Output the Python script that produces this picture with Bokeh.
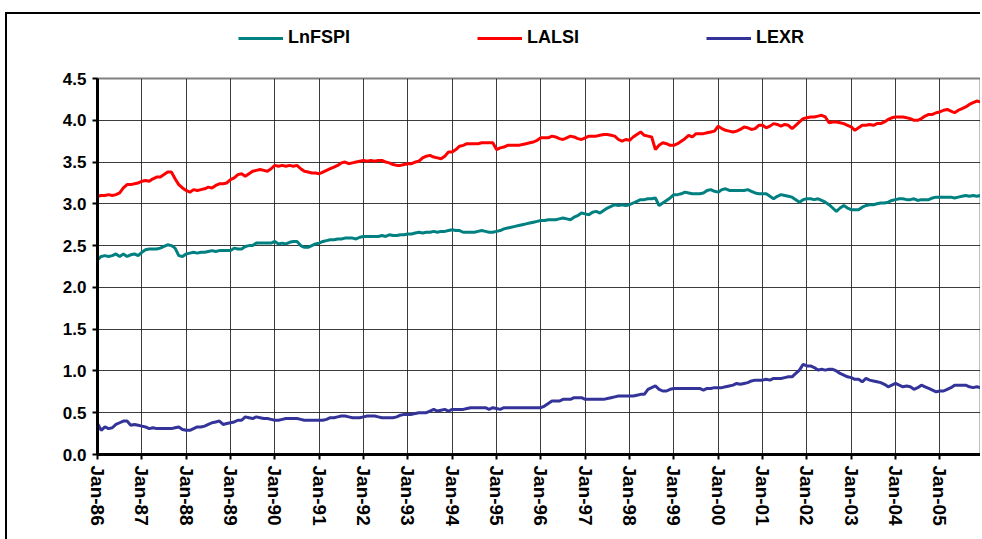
from bokeh.plotting import figure
from bokeh.layouts import column
from bokeh.models import Range1d, FixedTicker, Legend, LegendItem, NumeralTickFormatter
from bokeh.embed import file_html
from bokeh.resources import INLINE

# ---------------- data (monthly, Jan-86 .. Dec-05) ----------------
tick_labels = ["Jan-86", "Jan-87", "Jan-88", "Jan-89", "Jan-90", "Jan-91", "Jan-92",
               "Jan-93", "Jan-94", "Jan-95", "Jan-96", "Jan-97", "Jan-98", "Jan-99",
               "Jan-00", "Jan-01", "Jan-02", "Jan-03", "Jan-04", "Jan-05"]

lnfspi = [
    2.33, 2.37, 2.38, 2.37, 2.38, 2.40, 2.37, 2.40, 2.37, 2.39, 2.40, 2.38,  # 86
    2.42, 2.45, 2.46, 2.46, 2.46, 2.47, 2.49, 2.51, 2.50, 2.47, 2.38, 2.37,  # 87
    2.40, 2.41, 2.42, 2.41, 2.42, 2.42, 2.43, 2.44, 2.43, 2.44, 2.44, 2.44,  # 88
    2.44, 2.47, 2.46, 2.46, 2.49, 2.50, 2.50, 2.53, 2.53, 2.53, 2.53, 2.53,  # 89
    2.55, 2.52, 2.53, 2.52, 2.54, 2.55, 2.55, 2.50, 2.48, 2.48, 2.50, 2.52,  # 90
    2.53, 2.55, 2.56, 2.57, 2.57, 2.58, 2.58, 2.59, 2.59, 2.59, 2.58, 2.60,  # 91
    2.61, 2.61, 2.61, 2.61, 2.61, 2.62, 2.61, 2.63, 2.62, 2.62, 2.63, 2.63,  # 92
    2.64, 2.64, 2.65, 2.66, 2.65, 2.66, 2.66, 2.67, 2.66, 2.67, 2.67, 2.68,  # 93
    2.69, 2.68, 2.68, 2.66, 2.66, 2.66, 2.66, 2.67, 2.68, 2.67, 2.66, 2.66,  # 94
    2.67, 2.68, 2.70, 2.71, 2.72, 2.73, 2.74, 2.75, 2.76, 2.77, 2.78, 2.79,  # 95
    2.80, 2.80, 2.81, 2.81, 2.81, 2.82, 2.83, 2.82, 2.81, 2.84, 2.86, 2.89,  # 96
    2.88, 2.87, 2.90, 2.91, 2.89, 2.92, 2.95, 2.97, 2.99, 2.98, 2.99, 2.98,  # 97
    2.99, 3.01, 3.03, 3.05, 3.05, 3.06, 3.06, 3.07, 2.98, 3.01, 3.04, 3.07,  # 98
    3.11, 3.11, 3.12, 3.14, 3.13, 3.12, 3.12, 3.12, 3.13, 3.16, 3.17, 3.15,  # 99
    3.14, 3.17, 3.18, 3.16, 3.16, 3.16, 3.16, 3.16, 3.17, 3.15, 3.13, 3.12,  # 00
    3.12, 3.12, 3.09, 3.06, 3.09, 3.11, 3.10, 3.09, 3.08, 3.05, 3.02, 3.05,  # 01
    3.06, 3.06, 3.05, 3.06, 3.04, 3.02, 2.99, 2.95, 2.91, 2.95, 2.98, 2.95,  # 02
    2.93, 2.93, 2.93, 2.96, 2.98, 2.99, 2.99, 3.00, 3.01, 3.01, 3.02, 3.04,  # 03
    3.05, 3.06, 3.06, 3.05, 3.05, 3.06, 3.04, 3.05, 3.05, 3.05, 3.07, 3.08,  # 04
    3.08, 3.08, 3.08, 3.08, 3.07, 3.08, 3.09, 3.10, 3.09, 3.10, 3.09, 3.10,  # 05
]

lalsi = [
    3.09, 3.10, 3.10, 3.11, 3.10, 3.11, 3.13, 3.19, 3.23, 3.23, 3.24, 3.25,  # 86
    3.27, 3.28, 3.27, 3.30, 3.32, 3.32, 3.35, 3.38, 3.38, 3.30, 3.23, 3.19,  # 87
    3.16, 3.14, 3.17, 3.16, 3.17, 3.18, 3.20, 3.19, 3.22, 3.24, 3.24, 3.25,  # 88
    3.29, 3.31, 3.35, 3.36, 3.33, 3.36, 3.39, 3.40, 3.41, 3.40, 3.39, 3.42,  # 89
    3.46, 3.45, 3.46, 3.45, 3.46, 3.45, 3.46, 3.42, 3.39, 3.38, 3.37, 3.37,  # 90
    3.36, 3.38, 3.40, 3.42, 3.44, 3.46, 3.49, 3.50, 3.48, 3.49, 3.50, 3.51,  # 91
    3.52, 3.51, 3.52, 3.51, 3.52, 3.52, 3.50, 3.49, 3.47, 3.46, 3.46, 3.47,  # 92
    3.48, 3.48, 3.50, 3.51, 3.55, 3.57, 3.58, 3.56, 3.55, 3.54, 3.57, 3.62,  # 93
    3.62, 3.65, 3.69, 3.70, 3.72, 3.72, 3.72, 3.72, 3.73, 3.73, 3.73, 3.73,  # 94
    3.65, 3.67, 3.68, 3.70, 3.70, 3.70, 3.70, 3.71, 3.72, 3.73, 3.74, 3.76,  # 95
    3.79, 3.79, 3.79, 3.81, 3.80, 3.78, 3.77, 3.79, 3.81, 3.80, 3.78, 3.77,  # 96
    3.79, 3.81, 3.81, 3.81, 3.82, 3.83, 3.83, 3.82, 3.81, 3.77, 3.75, 3.77,  # 97
    3.76, 3.80, 3.83, 3.86, 3.82, 3.81, 3.80, 3.65, 3.70, 3.73, 3.72, 3.70,  # 98
    3.70, 3.72, 3.75, 3.78, 3.82, 3.80, 3.84, 3.84, 3.84, 3.85, 3.86, 3.87,  # 99
    3.93, 3.90, 3.88, 3.87, 3.86, 3.87, 3.89, 3.92, 3.91, 3.89, 3.90, 3.94,  # 00
    3.94, 3.91, 3.93, 3.96, 3.95, 3.93, 3.95, 3.94, 3.90, 3.94, 3.98, 4.02,  # 01
    4.03, 4.04, 4.04, 4.05, 4.06, 4.04, 3.97, 3.98, 3.98, 3.97, 3.96, 3.94,  # 02
    3.92, 3.88, 3.91, 3.94, 3.94, 3.95, 3.94, 3.96, 3.96, 3.98, 4.01, 4.03,  # 03
    4.04, 4.04, 4.04, 4.03, 4.02, 4.00, 4.00, 4.02, 4.05, 4.07, 4.07, 4.09,  # 04
    4.10, 4.12, 4.13, 4.11, 4.09, 4.12, 4.14, 4.16, 4.19, 4.21, 4.23, 4.22,  # 05
]

lexr = [
    0.37, 0.29, 0.33, 0.31, 0.32, 0.36, 0.38, 0.40, 0.40, 0.35, 0.36, 0.35,  # 86
    0.34, 0.33, 0.31, 0.32, 0.31, 0.31, 0.31, 0.31, 0.31, 0.32, 0.33, 0.30,  # 87
    0.29, 0.29, 0.31, 0.33, 0.33, 0.34, 0.36, 0.38, 0.39, 0.40, 0.36, 0.37,  # 88
    0.38, 0.39, 0.41, 0.41, 0.45, 0.44, 0.43, 0.45, 0.44, 0.43, 0.43, 0.42,  # 89
    0.41, 0.41, 0.42, 0.43, 0.43, 0.43, 0.43, 0.42, 0.41, 0.41, 0.41, 0.41,  # 90
    0.41, 0.41, 0.42, 0.44, 0.44, 0.45, 0.46, 0.46, 0.45, 0.44, 0.44, 0.44,  # 91
    0.45, 0.46, 0.46, 0.46, 0.45, 0.44, 0.44, 0.44, 0.44, 0.45, 0.47, 0.48,  # 92
    0.48, 0.48, 0.49, 0.50, 0.50, 0.50, 0.52, 0.54, 0.52, 0.53, 0.54, 0.52,  # 93
    0.54, 0.54, 0.54, 0.54, 0.55, 0.56, 0.56, 0.56, 0.56, 0.56, 0.54, 0.56,  # 94
    0.55, 0.54, 0.56, 0.56, 0.56, 0.56, 0.56, 0.56, 0.56, 0.56, 0.56, 0.56,  # 95
    0.56, 0.58, 0.61, 0.64, 0.64, 0.64, 0.66, 0.66, 0.66, 0.68, 0.68, 0.68,  # 96
    0.66, 0.66, 0.66, 0.66, 0.66, 0.66, 0.67, 0.68, 0.69, 0.70, 0.70, 0.70,  # 97
    0.70, 0.70, 0.71, 0.72, 0.72, 0.78, 0.80, 0.82, 0.78, 0.76, 0.76, 0.78,  # 98
    0.79, 0.79, 0.79, 0.79, 0.79, 0.79, 0.79, 0.79, 0.77, 0.79, 0.79, 0.80,  # 99
    0.80, 0.80, 0.81, 0.82, 0.83, 0.85, 0.84, 0.85, 0.86, 0.88, 0.89, 0.89,  # 00
    0.89, 0.90, 0.89, 0.91, 0.91, 0.91, 0.92, 0.93, 0.93, 0.97, 1.01, 1.08,  # 01
    1.06, 1.06, 1.04, 1.01, 1.02, 1.01, 1.02, 1.02, 1.00, 0.97, 0.95, 0.93,  # 02
    0.92, 0.90, 0.90, 0.87, 0.91, 0.89, 0.88, 0.87, 0.86, 0.84, 0.81, 0.83,  # 03
    0.85, 0.83, 0.81, 0.82, 0.81, 0.78, 0.80, 0.83, 0.81, 0.79, 0.77, 0.75,  # 04
    0.76, 0.76, 0.78, 0.80, 0.83, 0.83, 0.83, 0.83, 0.81, 0.80, 0.81, 0.80,  # 05
]

series_names = ["LnFSPI", "LALSI", "LEXR"]
series_colors = ["#008080", "#FF0000", "#333399"]
series_values = [lnfspi, lalsi, lexr]

months = list(range(len(lnfspi)))
year_ticks = [12 * i for i in range(len(tick_labels))]

FONT = "Liberation Sans"

# ---------------- legend strip (top of the chart box) ----------------
leg = figure(width=975, height=50, output_backend="svg", toolbar_location=None,
             x_axis_type=None, y_axis_type=None,
             x_range=Range1d(0, len(months) - 1), y_range=Range1d(10, 11),
             min_border_left=0, min_border_right=0, min_border_top=0, min_border_bottom=0)
leg.outline_line_color = None
leg.background_fill_color = "white"
leg.border_fill_color = "white"
leg.styles = {"margin-left": "5px", "margin-top": "12px",
              "border-top": "2px solid black", "border-left": "2px solid black",
              "box-sizing": "border-box"}
leg_renderers = []
for vals, name, col in zip(series_values, series_names, series_colors):
    r = leg.line(months, vals, line_color=col, line_width=3)
    leg_renderers.append((name, r))
legend = Legend(items=[LegendItem(label=n, renderers=[r]) for n, r in leg_renderers],
                orientation="horizontal", location=(141, 16),
                glyph_width=45, glyph_height=20, label_standoff=5, spacing=127,
                padding=0, margin=0, border_line_alpha=0, background_fill_alpha=0,
                label_text_font=FONT, label_text_font_style="bold",
                label_text_font_size="18px", label_text_color="black")
leg.add_layout(legend, "center")

# ---------------- main chart ----------------
p = figure(width=975, height=477, output_backend="svg", toolbar_location=None,
           x_range=Range1d(0, len(months) - 1), y_range=Range1d(0, 4.5),
           min_border_left=90, min_border_right=2, min_border_top=16, min_border_bottom=85)
p.background_fill_color = "white"
p.border_fill_color = "white"
p.outline_line_color = "#808080"
p.outline_line_width = 2
p.styles = {"margin-left": "5px", "border-left": "2px solid black",
            "box-sizing": "border-box"}

for vals, name, col in zip(series_values, series_names, series_colors):
    p.line(months, vals, line_color=col, line_width=3)

p.xaxis.ticker = FixedTicker(ticks=year_ticks)
p.xaxis.major_label_overrides = {t: lab for t, lab in zip(year_ticks, tick_labels)}
p.xaxis.major_label_orientation = "vertical"
p.yaxis.ticker = FixedTicker(ticks=[i * 0.5 for i in range(10)])
p.yaxis.formatter = NumeralTickFormatter(format="0.0")

for ax in (p.xaxis[0], p.yaxis[0]):
    ax.axis_line_color = "black"
    ax.axis_line_width = 3
    ax.major_tick_line_color = "black"
    ax.major_tick_line_width = 2
    ax.major_tick_out = 5
    ax.major_tick_in = 0
    ax.minor_tick_line_color = None
    ax.major_label_text_font = FONT
    ax.major_label_text_font_style = "bold"
    ax.major_label_text_color = "black"
p.yaxis.major_label_text_font_size = "17px"
p.yaxis.major_label_standoff = 6
p.xaxis.major_label_text_font_size = "19px"
p.xaxis.major_label_standoff = 6

for g in (p.xgrid[0], p.ygrid[0]):
    g.grid_line_color = "#1a1a1a"
    g.grid_line_width = 1
    g.grid_line_alpha = 0.85

layout = column(leg, p, spacing=0)
open("out.html", "w").write(file_html(layout, INLINE))
